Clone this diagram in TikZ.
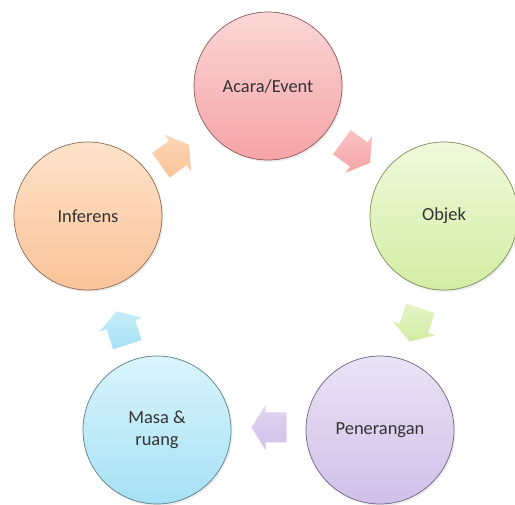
\documentclass[tikz,border=0pt]{standalone}
\usepackage{fontspec}
\setmainfont{Carlito}
\usetikzlibrary{shadows}

\definecolor{acaratop}{HTML}{FAD6D6}
\definecolor{acarabot}{HTML}{F6A4A7}
\definecolor{acaraline}{HTML}{8E5A5C}
\definecolor{objektop}{HTML}{F0F9DC}
\definecolor{objekbot}{HTML}{D3EDA3}
\definecolor{objekline}{HTML}{7C8F57}
\definecolor{terangtop}{HTML}{EAE3F5}
\definecolor{terangbot}{HTML}{D0C0E9}
\definecolor{terangline}{HTML}{6C6283}
\definecolor{masatop}{HTML}{DAF4FB}
\definecolor{masabot}{HTML}{A6E1F5}
\definecolor{masaline}{HTML}{5B7F8C}
\definecolor{inftop}{HTML}{FEE2CB}
\definecolor{infbot}{HTML}{FAC399}
\definecolor{infline}{HTML}{8C6C52}

\tikzset{
    flowarrow/.pic={
            \coordinate (-mid) at (0,0);
            \shade[top color=#1top!60!#1bot,bottom color=#1bot,shading angle=0]
                (-0.35,-0.3) -- (0.07,-0.3) -- (0.07,-0.45) -- (0.35,0)
                -- (0.07,0.45) -- (0.07,0.3) -- (-0.35,0.3) -- cycle;
        }
}

\begin{document}
\begin{tikzpicture}[
            stage/.style={circle,draw=#1line,top color=#1top,bottom color=#1bot,
                    minimum size=2.96cm,align=center,text=black!80,
                    font=\fontsize{10.5}{12.5}\selectfont,
                    drop shadow={opacity=0.15,shadow xshift=0.03cm,shadow yshift=-0.04cm}},
        ]

        \useasboundingbox (0,0) rectangle (10.3,10.1);

        % Stages of the cycle
        \node[stage=acara] (acara) at (5.36,8.38) {Acara/Event};
        \node[stage=objek] (objek) at (8.88,5.78) {Objek};
        \node[stage=terang] (terang) at (7.60,1.50) {Penerangan};
        \node[stage=masa] (masa) at (3.14,1.50) {Masa \&\\ruang};
        \node[stage=inf] (inf) at (1.76,5.78) {Inferens};

        % Arrows between stages
        \pic[rotate=-36] (acara-objek) at (7.12,7.05) {flowarrow=acara};
        \pic[rotate=-108] (objek-terang) at (8.30,3.60) {flowarrow=objek};
        \pic[rotate=180] (terang-masa) at (5.38,1.55) {flowarrow=terang};
        \pic[rotate=108] (masa-inf) at (2.44,3.54) {flowarrow=masa};
        \pic[rotate=36] (inf-acara) at (3.50,7.00) {flowarrow=inf};

    \end{tikzpicture}
\end{document}
